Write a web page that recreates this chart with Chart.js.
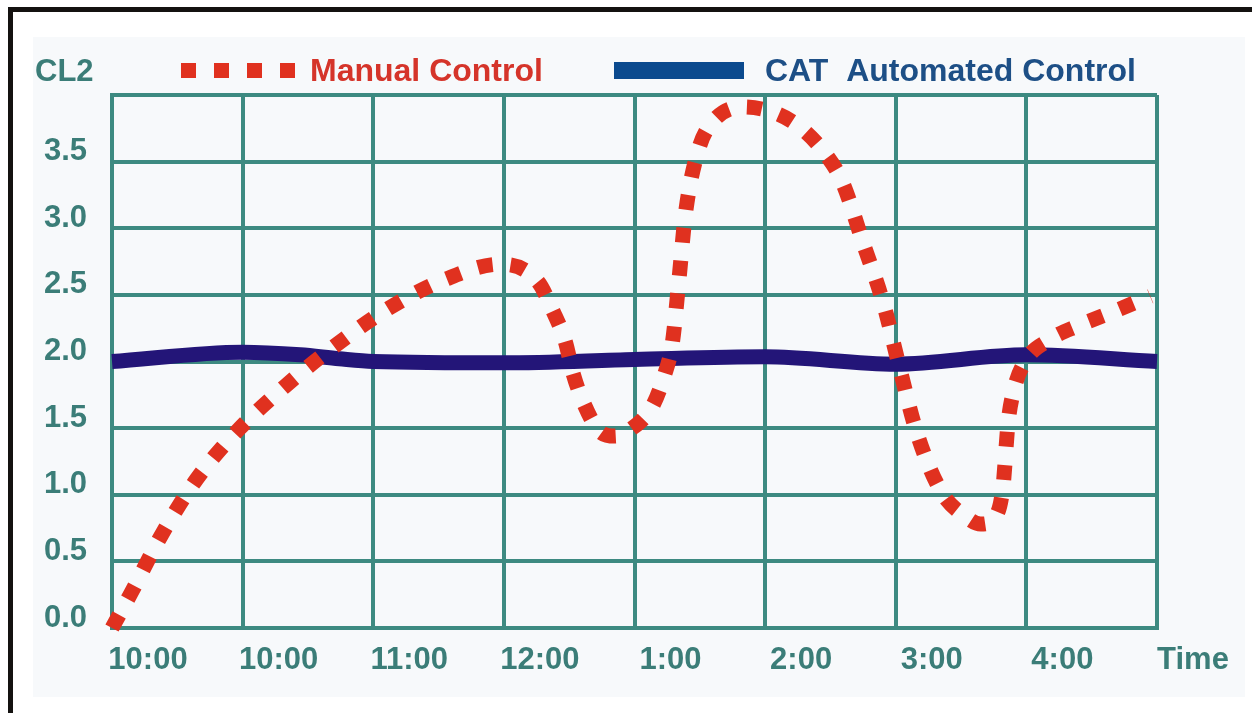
<!DOCTYPE html>
<html>
<head>
<meta charset="utf-8">
<title>CL2 - Manual Control vs CAT Automated Control</title>
<script src="https://cdn.jsdelivr.net/npm/chart.js@4.4.1/dist/chart.umd.min.js"></script>
<style>
  html, body { margin: 0; padding: 0; background: #ffffff; }
  #wrap { position: relative; width: 1252px; height: 713px; overflow: hidden; }
  #panel { position: absolute; left: 33px; top: 37px; width: 1212px; height: 660px; background: #f7f9fb; }
  #frame { position: absolute; left: 8px; top: 7px; right: 0; bottom: 0;
           border-top: 5px solid #141210; border-left: 5px solid #141210; pointer-events: none; }
  canvas { position: absolute; left: 0; top: 0; }
</style>
</head>
<body>
<div id="wrap">
  <div id="panel"></div>
  <canvas id="clChart" width="1252" height="713"></canvas>
  <div id="frame"></div>
</div>
<script>
// Tick labels
const xLabels = ["10:00", "10:00", "11:00", "12:00", "1:00", "2:00", "3:00", "4:00", "Time"];
const yLabels = ["0.0", "0.5", "1.0", "1.5", "2.0", "2.5", "3.0", "3.5", ""];

// Manual Control
const manualX = [0, 0.15, 0.38, 0.65, 0.97, 1.32, 1.71, 2.12, 2.56, 2.97, 3.26, 3.38, 3.47, 3.53, 3.61,
  3.74, 3.85, 3.97, 4.14, 4.23, 4.29, 4.34, 4.39, 4.49, 4.60, 4.83, 5.09, 5.29, 5.46, 5.59, 5.75,
  5.91, 6.03, 6.16, 6.35, 6.53, 6.65, 6.75, 6.82, 6.86, 6.90, 6.99, 7.17, 7.40, 7.63, 7.95];
const manualY = [0, 0.27, 0.70, 1.12, 1.49, 1.81, 2.12, 2.40, 2.62, 2.73, 2.60, 2.37, 2.15, 1.91, 1.69,
  1.47, 1.44, 1.49, 1.67, 1.90, 2.14, 2.61, 3.11, 3.59, 3.80, 3.91, 3.86, 3.74, 3.56, 3.35, 2.89,
  2.42, 1.95, 1.47, 1.02, 0.84, 0.78, 0.82, 1.05, 1.54, 1.77, 2.00, 2.16, 2.27, 2.36, 2.49];

// CAT Automated Control
const catX = [0, 1, 1.44, 1.74, 2, 3, 4, 5, 6, 7, 8];
const catY = [2.0, 2.07, 2.05, 2.02, 2.0, 1.99, 2.015, 2.035, 1.98, 2.05, 2.0];

// Colours
const teal = "#3b7d78";
const gridColor = "#3d8a81";
const red = "#e0311f";
const redText = "#d5342a";
const blueLine = "#231578";
const blueLegend = "#0b4a8e";
const blueText = "#1d4f86";
const FONT = "'Liberation Sans', Arial, Helvetica, sans-serif";

function toPoints(xs, ys) {
  return xs.map((x, i) => ({ x: x, y: ys[i] }));
}

// Legend + "CL2" header drawn on the canvas
const headerPlugin = {
  id: "header",
  afterDraw(chart) {
    const ctx = chart.ctx;
    const ds = chart.data.datasets;
    ctx.save();
    ctx.textBaseline = "middle";
    ctx.textAlign = "left";
    ctx.font = "bold 31px " + FONT;

    ctx.fillStyle = teal;
    ctx.fillText("CL2", 35, 72);

    // dotted sample
    ctx.fillStyle = red;
    [181, 214, 247, 280].forEach((x) => ctx.fillRect(x, 63, 15, 15));
    ctx.fillStyle = redText;
    ctx.font = "bold 32px " + FONT;
    ctx.fillText(ds[0].label, 310, 72);

    // solid sample
    ctx.fillStyle = blueLegend;
    ctx.fillRect(614, 62, 130, 17);
    ctx.fillStyle = blueText;
    ctx.fillText(ds[1].label, 765, 72);
    ctx.restore();
  },
};

const chartInstance = new Chart(document.getElementById("clChart"), {
  type: "line",
  data: {
    datasets: [
      {
        label: "Manual Control",
        data: toPoints(manualX, manualY),
        borderColor: red,
        borderWidth: 15,
        borderDash: [15, 18],
        borderCapStyle: "butt",
        pointRadius: 0,
        cubicInterpolationMode: "monotone",
        clip: false,
        order: 0,
      },
      {
        label: "CAT  Automated Control",
        data: toPoints(catX, catY),
        borderColor: blueLine,
        borderWidth: 15,
        pointRadius: 0,
        cubicInterpolationMode: "monotone",
        clip: false,
        order: 1,
      },
    ],
  },
  options: {
    responsive: false,
    devicePixelRatio: 1,
    animation: false,
    layout: { padding: { top: 95, right: 95, left: 0, bottom: 0 } },
    plugins: {
      legend: { display: false },
      tooltip: { enabled: false },
    },
    scales: {
      x: {
        type: "linear",
        min: 0,
        max: 8,
        afterFit(scale) { scale.height = 85; },
        grid: { color: gridColor, lineWidth: 4, drawTicks: false },
        border: { color: gridColor, width: 4 },
        ticks: {
          stepSize: 1,
          autoSkip: false,
          maxRotation: 0,
          padding: 14,
          labelOffset: 36,
          color: teal,
          font: { family: FONT, size: 31, weight: "bold" },
          callback: (v) => xLabels[v] ?? "",
        },
      },
      y: {
        min: 0,
        max: 4,
        afterFit(scale) { scale.width = 112; },
        grid: { color: gridColor, lineWidth: 4, drawTicks: false },
        border: { color: gridColor, width: 4 },
        ticks: {
          stepSize: 0.5,
          padding: 25,
          labelOffset: -10,
          color: teal,
          font: { family: FONT, size: 31, weight: "bold" },
          callback: (v) => yLabels[Math.round(v * 2)] ?? "",
        },
      },
    },
  },
  plugins: [headerPlugin],
});
</script>
</body>
</html>
